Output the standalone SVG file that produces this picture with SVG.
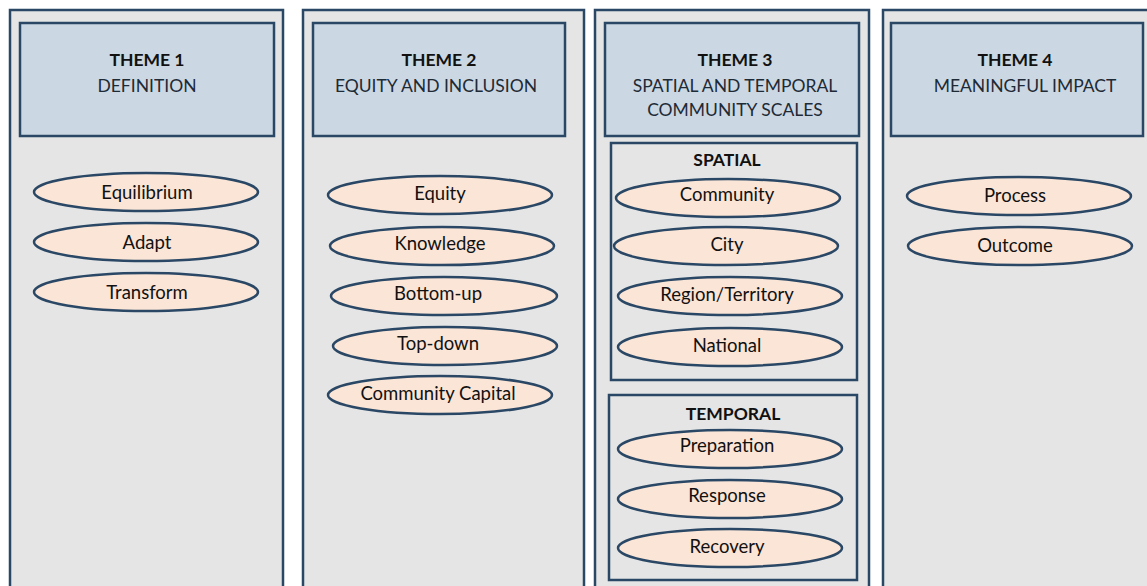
<svg xmlns="http://www.w3.org/2000/svg" width="1147" height="586" viewBox="0 0 1147 586">
  <style>
    .col { fill: #e5e5e5; stroke: #2a4866; stroke-width: 2.5; }
    .head { fill: #cbd8e3; stroke: #2a4866; stroke-width: 2.5; }
    .sub { fill: #e5e5e5; stroke: #2a4866; stroke-width: 2.5; }
    .item { fill: #fbe5d6; stroke: #2a4866; stroke-width: 2.5; }
    text { font-family: Lato, "Liberation Sans", sans-serif; fill: #111; text-anchor: middle; }
    .t { font-size: 17.5px; font-weight: bold; }
    .s { font-size: 17.5px; fill: #1e2a36; }
    .lbl { font-size: 18.5px; }
  </style>
  <rect width="1147" height="586" fill="#ffffff"/>

  <!-- Theme 1 column -->
  <g id="theme1">
    <rect class="col" x="10" y="10" width="273" height="590"/>
    <rect class="head" x="20" y="23" width="254" height="113"/>
    <text class="t" x="147" y="66">THEME 1</text>
    <text class="s" x="147" y="92">DEFINITION</text>
  </g>
  <g id="equilibrium"><ellipse class="item" cx="146" cy="192" rx="112" ry="19"/><text class="lbl" x="147" y="199">Equilibrium</text></g>
  <g id="adapt"><ellipse class="item" cx="146" cy="242" rx="112" ry="19"/><text class="lbl" x="147" y="249">Adapt</text></g>
  <g id="transform"><ellipse class="item" cx="146" cy="292" rx="112" ry="19"/><text class="lbl" x="147" y="299">Transform</text></g>

  <!-- Theme 2 column -->
  <g id="theme2">
    <rect class="col" x="303" y="10" width="281" height="590"/>
    <rect class="head" x="313" y="23" width="252" height="113"/>
    <text class="t" x="439" y="66">THEME 2</text>
    <text class="s" x="436" y="92">EQUITY AND INCLUSION</text>
  </g>
  <g id="equity"><ellipse class="item" cx="440" cy="195" rx="112" ry="19"/><text class="lbl" x="440" y="200">Equity</text></g>
  <g id="knowledge"><ellipse class="item" cx="442" cy="246" rx="112" ry="19"/><text class="lbl" x="440" y="250">Knowledge</text></g>
  <g id="bottom-up"><ellipse class="item" cx="444" cy="296" rx="113" ry="19"/><text class="lbl" x="438" y="300">Bottom-up</text></g>
  <g id="top-down"><ellipse class="item" cx="445" cy="346" rx="112" ry="19"/><text class="lbl" x="438" y="350">Top-down</text></g>
  <g id="community-capital"><ellipse class="item" cx="440" cy="395" rx="112" ry="19"/><text class="lbl" x="438" y="400">Community Capital</text></g>

  <!-- Theme 3 column -->
  <g id="theme3">
    <rect class="col" x="595" y="10" width="274" height="590"/>
    <rect class="head" x="605" y="23" width="254" height="113"/>
    <text class="t" x="735" y="66">THEME 3</text>
    <text class="s" x="735" y="92">SPATIAL AND TEMPORAL</text>
    <text class="s" x="735" y="116">COMMUNITY SCALES</text>
  </g>
  <g id="spatial">
    <rect class="sub" x="611" y="143" width="246" height="237"/>
    <text class="t" x="727" y="166">SPATIAL</text>
  </g>
  <g id="community"><ellipse class="item" cx="728" cy="198" rx="112" ry="19"/><text class="lbl" x="727" y="201">Community</text></g>
  <g id="city"><ellipse class="item" cx="726" cy="246" rx="112" ry="19"/><text class="lbl" x="727" y="251">City</text></g>
  <g id="region-territory"><ellipse class="item" cx="730" cy="296" rx="112" ry="19"/><text class="lbl" x="727" y="301">Region/Territory</text></g>
  <g id="national"><ellipse class="item" cx="730" cy="347" rx="112" ry="19"/><text class="lbl" x="727" y="352">National</text></g>
  <g id="temporal">
    <rect class="sub" x="609" y="395" width="248" height="185"/>
    <text class="t" x="733" y="420">TEMPORAL</text>
  </g>
  <g id="preparation"><ellipse class="item" cx="730" cy="449" rx="112" ry="19"/><text class="lbl" x="727" y="452">Preparation</text></g>
  <g id="response"><ellipse class="item" cx="730" cy="499" rx="112" ry="19"/><text class="lbl" x="727" y="502">Response</text></g>
  <g id="recovery"><ellipse class="item" cx="730" cy="548" rx="112" ry="19"/><text class="lbl" x="727" y="553">Recovery</text></g>

  <!-- Theme 4 column -->
  <g id="theme4">
    <rect class="col" x="883" y="10" width="280" height="590"/>
    <rect class="head" x="891" y="23" width="252" height="113"/>
    <text class="t" x="1015" y="66">THEME 4</text>
    <text class="s" x="1025" y="92">MEANINGFUL IMPACT</text>
  </g>
  <g id="process"><ellipse class="item" cx="1019" cy="196" rx="112" ry="19"/><text class="lbl" x="1015" y="202">Process</text></g>
  <g id="outcome"><ellipse class="item" cx="1020" cy="246" rx="112" ry="19"/><text class="lbl" x="1015" y="252">Outcome</text></g>

  <!-- no connectors in this diagram -->
  <g id="connectors"/>
</svg>
